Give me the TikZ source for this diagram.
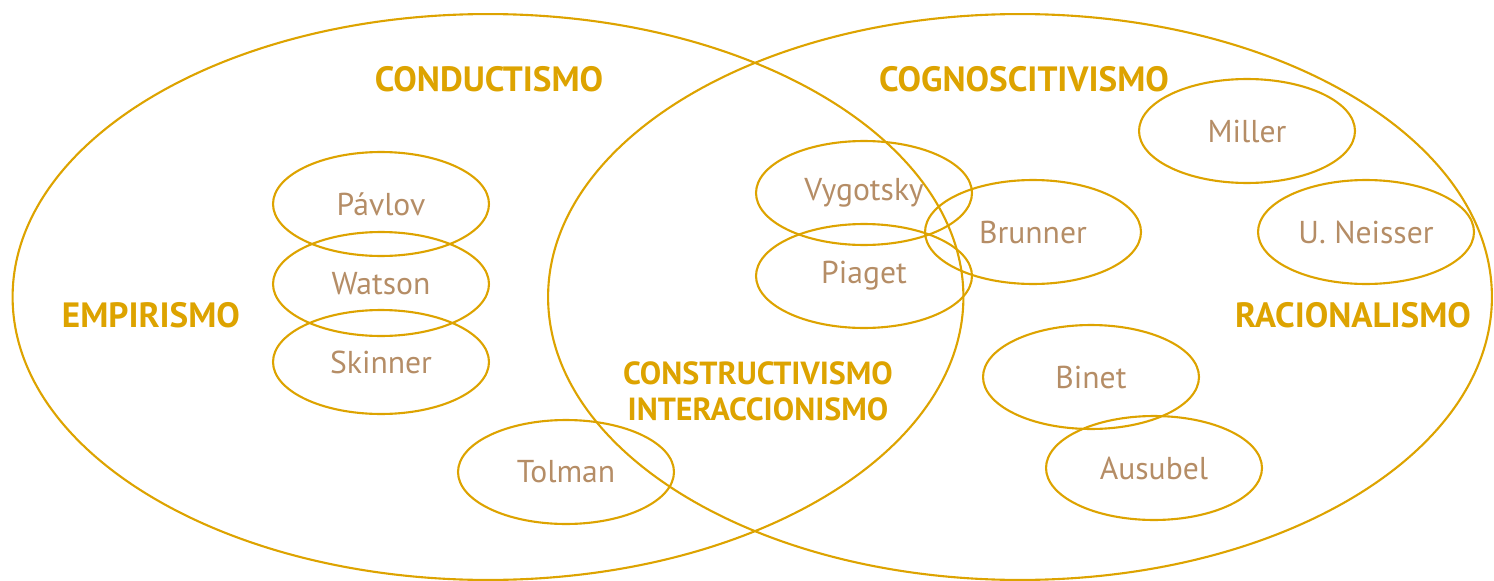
\documentclass[tikz,border=0pt]{standalone}
\usepackage{fontspec}
\setmainfont{PT Sans}
\usepackage{tikz}
\usetikzlibrary{positioning,shapes.geometric}

\definecolor{oro}{HTML}{DDA300}
\definecolor{tierra}{HTML}{B58D66}

\begin{document}
\begin{tikzpicture}[x=0.02cm,y=-0.02cm,
		escuela/.style={ellipse,draw=oro,line width=1.2pt,inner sep=0pt},
		autor/.style={ellipse,draw=oro,line width=1.2pt,inner sep=0pt,
			minimum width=4.32cm,minimum height=2.08cm,
			text=tierra,font=\fontsize{18}{20}\selectfont},
		corriente/.style={text=oro,font=\fontsize{20}{20.5}\selectfont\bfseries,align=center}]
	\useasboundingbox (0,0) rectangle (1494,581);
	
	% las dos grandes corrientes
	\node[escuela,minimum width=19.02cm,minimum height=11.32cm] (emp) at (488,297) {};
	\node[escuela,minimum width=18.88cm,minimum height=11.32cm] (rac) at (1020,297) {};
	
	\node[corriente] (empirismo) at (151,315) {EMPIRISMO};
	\node[corriente] (racionalismo) at (1353,315) {RACIONALISMO};
	\node[corriente] (conductismo) at (489,79) {CONDUCTISMO};
	\node[corriente] (cognosc) at (1024,79) {COGNOSCITIVISMO};
	\node[corriente,font=\fontsize{18.2}{20.5}\selectfont\bfseries] (construct) at (758,391) {CONSTRUCTIVISMO\\INTERACCIONISMO};
	
	% autores
	\node[autor] (pavlov) at (381,204) {Pávlov};
	\node[autor] (watson) at (381,284) {Watson};
	\node[autor] (skinner) at (381,362) {Skinner};
	\node[autor] (tolman) at (566,472) {Tolman};
	\node[autor] (vygotsky) at (864,193) {Vygotsky};
	\node[autor] (piaget) at (864,276) {Piaget};
	\node[autor] (brunner) at (1033,232) {Brunner};
	\node[autor] (miller) at (1247,131) {Miller};
	\node[autor] (neisser) at (1366,232) {U. Neisser};
	\node[autor] (binet) at (1091,377) {Binet};
	\node[autor] (ausubel) at (1154,468) {Ausubel};
\end{tikzpicture}
\end{document}
